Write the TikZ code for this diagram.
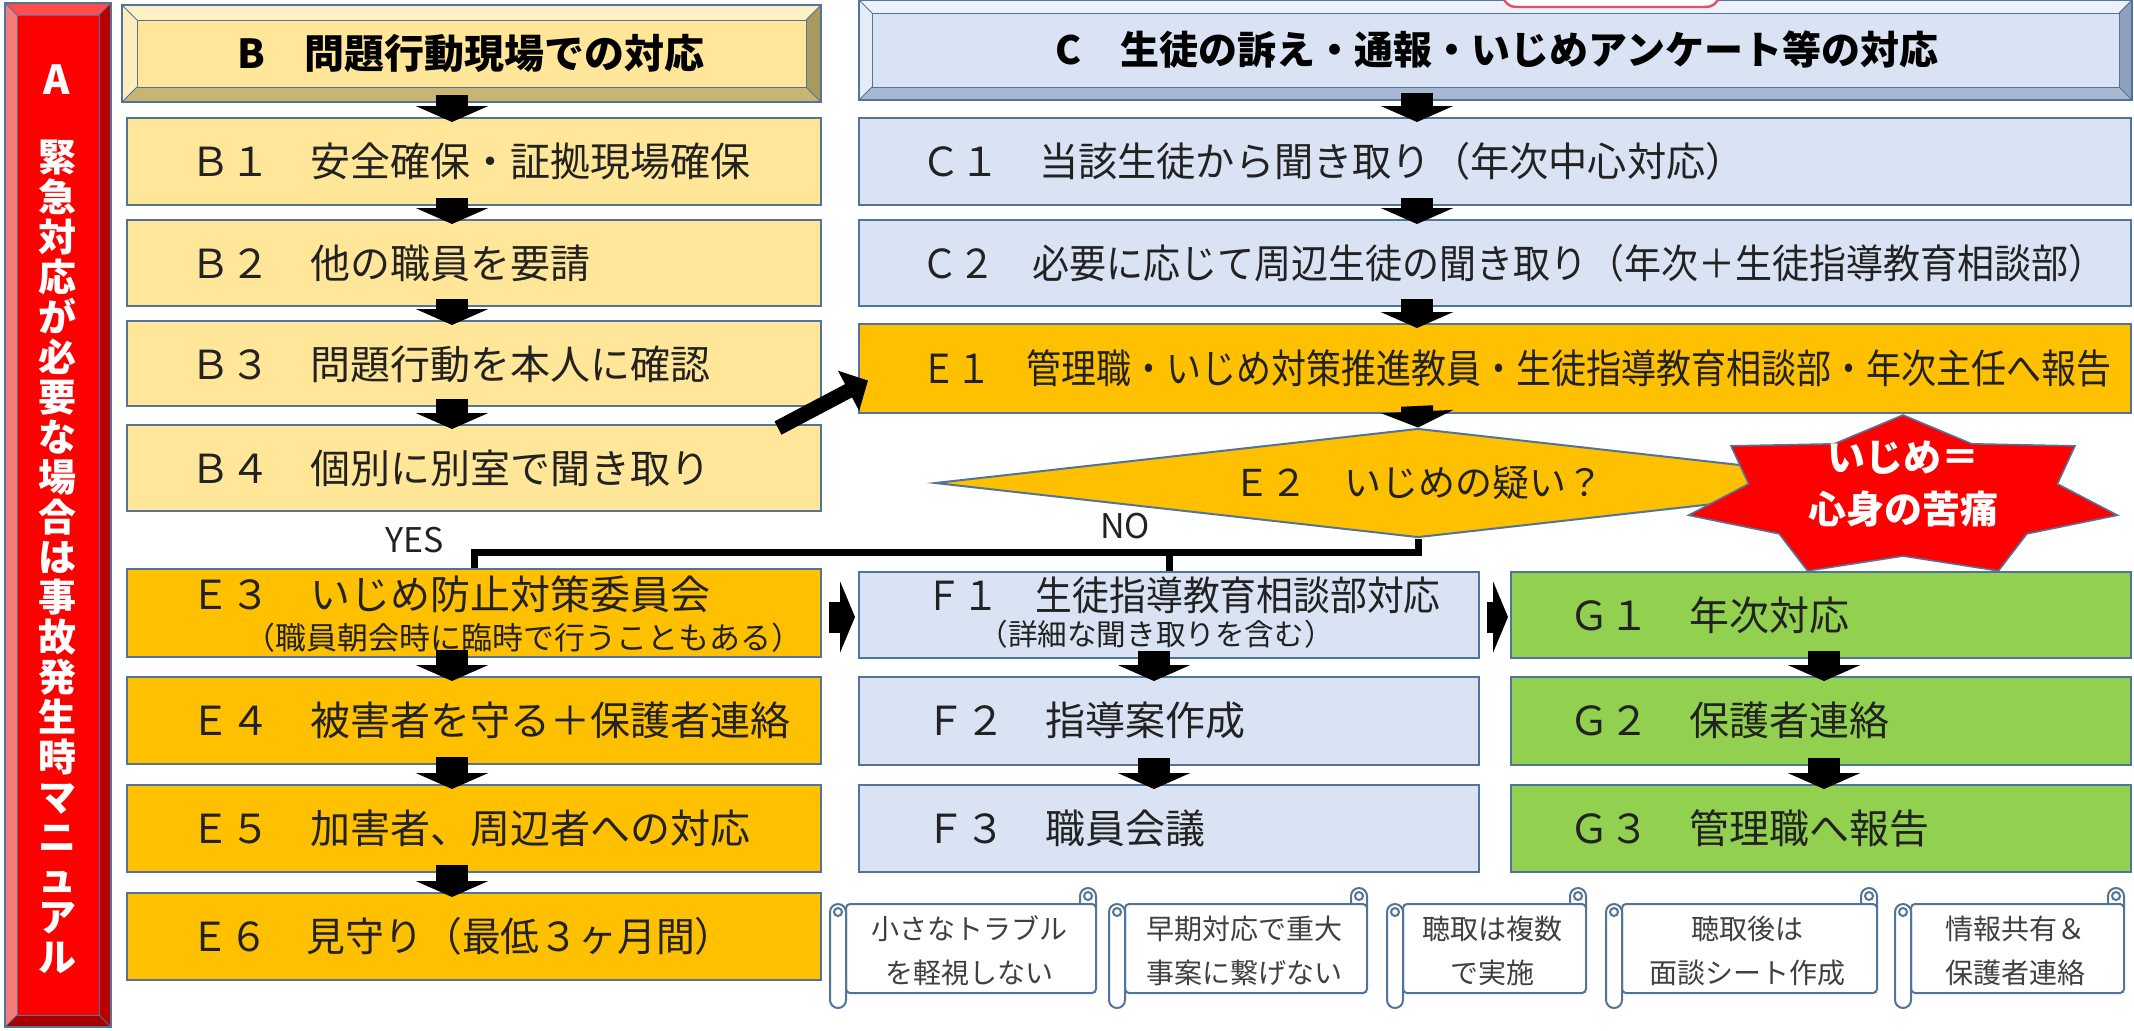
\documentclass[tikz,border=0pt]{standalone}
\usepackage{fontspec}
\setmainfont{Noto Sans CJK JP}
\usepackage{graphicx}
\usetikzlibrary{arrows.meta,calc,fit,shapes.geometric}
\definecolor{edgec}{HTML}{52739A}
\definecolor{yelc}{HTML}{FFE699}
\definecolor{bluc}{HTML}{DAE3F3}
\definecolor{orac}{HTML}{FFC000}
\definecolor{grnc}{HTML}{92D050}
\definecolor{txtc}{HTML}{222222}
\definecolor{scrtc}{HTML}{404040}
\definecolor{Aface}{HTML}{FF0000}
\definecolor{Atop}{HTML}{FF4D4D}
\definecolor{Aleft}{HTML}{F77B7B}
\definecolor{Abot}{HTML}{A50000}
\definecolor{Aright}{HTML}{B80000}
\definecolor{Bface}{HTML}{FFE699}
\definecolor{Btop}{HTML}{FFF1C6}
\definecolor{Bleft}{HTML}{FFEEBB}
\definecolor{Bbot}{HTML}{C8B574}
\definecolor{Bright}{HTML}{A9995E}
\definecolor{Cface}{HTML}{DAE3F3}
\definecolor{Ctop}{HTML}{EDF1F9}
\definecolor{Cleft}{HTML}{E6ECF7}
\definecolor{Cbot}{HTML}{A9B8D1}
\definecolor{Cright}{HTML}{8FA0BC}
\definecolor{starc}{HTML}{FF0000}
\definecolor{fragc}{HTML}{E0506A}

\newcommand\bevelbox[6]{%
  \fill[#6face] (#1,#2) rectangle (#3,#4);
  \fill[#6top] (#1,#2) -- (#3,#2) -- ({#3-#5},{#2+#5}) -- ({#1+#5},{#2+#5}) -- cycle;
  \fill[#6bot] (#1,#4) -- (#3,#4) -- ({#3-#5},{#4-#5}) -- ({#1+#5},{#4-#5}) -- cycle;
  \fill[#6left] (#1,#2) -- ({#1+#5},{#2+#5}) -- ({#1+#5},{#4-#5}) -- (#1,#4) -- cycle;
  \fill[#6right] (#3,#2) -- ({#3-#5},{#2+#5}) -- ({#3-#5},{#4-#5}) -- (#3,#4) -- cycle;
  \draw[edgec, line width=0.5pt] ({#1+#5},{#2+#5}) rectangle ({#3-#5},{#4-#5});
  \draw[edgec, line width=0.5pt] (#1,#2) -- ({#1+#5},{#2+#5}) (#3,#2) -- ({#3-#5},{#2+#5})
        (#1,#4) -- ({#1+#5},{#4-#5}) (#3,#4) -- ({#3-#5},{#4-#5});
  \draw[edgec, line width=1pt] (#1,#2) rectangle (#3,#4);
}

\newcommand\scrollbox[5]{%
  \filldraw[scr, rounded corners=4pt] ({#3-16},916) rectangle (#3,888);
  \draw[scr] ({#3-8},896) circle[radius=4];
  \filldraw[scr, rounded corners=2pt] ({#2+16},904) rectangle (#3,993);
  \filldraw[scr, rounded corners=4pt] (#2,904) rectangle ({#2+16},1008);
  \draw[scr] ({#2+8},912) circle[radius=4];
  \node[scrtxt] (#1) at ({(#2+#3)/2+6},951) {#4\\#5};
}

\newcommand\darrow[3]{\draw[darr] ($(#1.south -| #3)+(0,-7)$) -- ($(#2.north -| #3)+(0,4)$);}

\begin{document}
\begin{tikzpicture}[x=0.5pt,y=-0.5pt,
  box/.style={draw=edgec, line width=1.2pt, inner sep=0pt, outer sep=0pt},
  byel/.style={box, fill=yelc},
  bblu/.style={box, fill=bluc},
  bora/.style={box, fill=orac},
  bgrn/.style={box, fill=grnc},
  txt/.style={anchor=west, inner sep=0pt, text=txtc, font=\fontsize{20pt}{24pt}\selectfont},
  smalltxt/.style={anchor=west, inner sep=0pt, text=txtc, font=\fontsize{15.5pt}{18pt}\selectfont},
  hdtxt/.style={inner sep=0pt, text=black, font=\bfseries\fontsize{20pt}{24pt}\selectfont},
  ynlabel/.style={inner sep=0pt, text=txtc, font=\fontsize{17pt}{20pt}\selectfont},
  darr/.style={draw=black, line width=16pt, -{Triangle[width=36pt,length=8pt]}},
  rarr/.style={draw=black, line width=15.5pt, -{Triangle[width=35.5pt,length=7.5pt]}},
  diagarr/.style={draw=black, line width=7.5pt, -{Triangle[width=22pt,length=11pt]}},
  link/.style={draw=black, line width=3.5pt},
  scr/.style={draw=edgec, line width=1pt, fill=white},
  scrtxt/.style={inner sep=0pt, align=center, text=scrtc, font=\fontsize{14pt}{22pt}\selectfont},
]
\useasboundingbox (0,0) rectangle (2134,1030);
\fill[white] (0,0) rectangle (2134,1030);

% ---------- A bar ----------
\bevelbox{5}{3}{111}{1027}{12}{A}
\node[inner sep=0pt, text=white, font=\bfseries\fontsize{20pt}{22pt}\selectfont] (Alab) at (57,80) {A};
\node[inner sep=0pt, align=center, text=white, font=\bfseries\fontsize{19pt}{20pt}\selectfont] (Avert) at (57,557)
  {緊\\急\\対\\応\\が\\必\\要\\な\\場\\合\\は\\事\\故\\発\\生\\時\\マ\\ニ\\ュ\\ア\\ル};

% ---------- headers ----------
\bevelbox{122}{5}{821}{102}{15}{B}
\node[fit={(122,5) (821,102)}, inner sep=0pt] (Bh) {};
\node[hdtxt] (Bht) at (471,53) {B　問題行動現場での対応};

\bevelbox{859}{0}{2132}{100}{13}{C}
\node[fit={(859,0) (2132,100)}, inner sep=0pt] (Ch) {};
\node[hdtxt, font=\bfseries\fontsize{19.5pt}{24pt}\selectfont] (Cht) at (1497,50) {C　生徒の訴え・通報・いじめアンケート等の対応};
\filldraw[fill=white, draw=fragc, line width=1.2pt] (1504,0) .. controls (1510,7) .. (1525,7) -- (1697,7) .. controls (1712,7) .. (1718,0);

% ---------- column coordinates ----------
\coordinate (bx) at (452,0);
\coordinate (cx) at (1417,0);
\coordinate (fx) at (1154,0);
\coordinate (gx) at (1824,0);
\coordinate (jy) at (0,552);

% ---------- B column ----------
\node[byel, fit={(127,118) (821,205)}] (B1) {};
\node[byel, fit={(127,220) (821,306)}] (B2) {};
\node[byel, fit={(127,321) (821,406)}] (B3) {};
\node[byel, fit={(127,425) (821,511)}] (B4) {};
\node[txt] (B1t) at (190,161) {Ｂ１　安全確保・証拠現場確保};
\node[txt] (B2t) at (190,263) {Ｂ２　他の職員を要請};
\node[txt] (B3t) at (190,364) {Ｂ３　問題行動を本人に確認};
\node[txt] (B4t) at (190,468) {Ｂ４　個別に別室で聞き取り};

% ---------- C column ----------
\node[bblu, fit={(859,118) (2131,205)}] (C1) {};
\node[bblu, fit={(859,220) (2131,306)}] (C2) {};
\node[bora, fit={(859,324) (2131,413)}] (E1) {};
\node[txt] (C1t) at (921,161) {\scalebox{0.98}[1]{Ｃ１　当該生徒から聞き取り（年次中心対応）}};
\node[txt] (C2t) at (921,263) {\scalebox{0.925}[1]{Ｃ２　必要に応じて周辺生徒の聞き取り（年次＋生徒指導教育相談部）}};
\node[txt] (E1t) at (921,368) {\scalebox{0.875}[1]{Ｅ１　管理職・いじめ対策推進教員・生徒指導教育相談部・年次主任へ報告}};

% ---------- diamond ----------
\node[diamond, draw=edgec, line width=1pt, fill=orac, inner sep=0pt, aspect=8.86,
      minimum width=483pt, minimum height=54.5pt, text=txtc,
      font=\fontsize{18.5pt}{22pt}\selectfont] (E2) at (1418,483) {Ｅ２　いじめの疑い？};

% ---------- star ----------
\filldraw[fill=starc, draw=edgec, line width=0.8pt] (1903,415)
  \foreach \i in {1,...,13} { -- ({1903+220*(1-0.28*mod(\i,2))*cos(90-\i*25.7143)}, {497-82*(1-0.28*mod(\i,2))*sin(90-\i*25.7143)}) } -- cycle;
\node[inner sep=0pt, align=center, text=white, font=\bfseries\fontsize{19pt}{26pt}\selectfont] (star) at (1903,484) {いじめ＝\\心身の苦痛};

% ---------- links ----------
\draw[link] (E2.south) -- (E2.south |- jy) -| (474,569);
\draw[link] (1169,552) -- (1169,572);

% ---------- E column ----------
\node[bora, fit={(127,569) (821,657)}] (E3) {};
\node[bora, fit={(127,677) (821,764)}] (E4) {};
\node[bora, fit={(127,785) (821,872)}] (E5) {};
\node[bora, fit={(127,893) (821,980)}] (E6) {};
\node[txt] (E3t) at (190,594) {Ｅ３　いじめ防止対策委員会};
\node[smalltxt] (E3s) at (244,638) {（職員朝会時に臨時で行うこともある）};
\node[txt] (E4t) at (190,720) {Ｅ４　被害者を守る＋保護者連絡};
\node[txt] (E5t) at (190,828) {Ｅ５　加害者、周辺者への対応};
\node[txt] (E6t) at (190,936) {\scalebox{0.97}[1]{Ｅ６　見守り（最低３ヶ月間）}};

% ---------- F column ----------
\node[bblu, fit={(859,572) (1479,658)}] (F1) {};
\node[bblu, fit={(859,677) (1479,765)}] (F2) {};
\node[bblu, fit={(859,785) (1479,872)}] (F3) {};
\node[txt] (F1t) at (925,595) {\scalebox{0.92}[1]{Ｆ１　生徒指導教育相談部対応}};
\node[smalltxt, font=\fontsize{14.8pt}{18pt}\selectfont] (F1s) at (978,634) {（詳細な聞き取りを含む）};
\node[txt] (F2t) at (925,720) {Ｆ２　指導案作成};
\node[txt] (F3t) at (925,828) {Ｆ３　職員会議};

% ---------- G column ----------
\node[bgrn, fit={(1511,572) (2131,658)}] (G1) {};
\node[bgrn, fit={(1511,677) (2131,765)}] (G2) {};
\node[bgrn, fit={(1511,785) (2131,872)}] (G3) {};
\node[txt] (G1t) at (1569,615) {Ｇ１　年次対応};
\node[txt] (G2t) at (1569,720) {Ｇ２　保護者連絡};
\node[txt] (G3t) at (1569,828) {Ｇ３　管理職へ報告};

% ---------- labels ----------
\node[ynlabel] (yes) at (415,540) {YES};
\node[ynlabel] (no) at (1125,526) {NO};

% ---------- arrows ----------
\darrow{Bh}{B1}{bx}
\darrow{B1}{B2}{bx}
\darrow{B2}{B3}{bx}
\darrow{B3}{B4}{bx}
\darrow{E3}{E4}{bx}
\darrow{E4}{E5}{bx}
\darrow{E5}{E6}{bx}
\darrow{Ch}{C1}{cx}
\darrow{C1}{C2}{cx}
\darrow{C2}{E1}{cx}
\draw[darr] ($(E1.south -| cx)+(0,-7)$) -- (E2.north);
\darrow{F1}{F2}{fx}
\darrow{F2}{F3}{fx}
\darrow{G1}{G2}{gx}
\darrow{G2}{G3}{gx}
\draw[rarr] ($(E3.east)+(8,4)$) -- ($(F1.west |- E3.east)+(-4,4)$);
\draw[rarr] ($(F1.east)+(8,2)$) -- ($(G1.west)+(-3,2)$);
\coordinate (dtail) at (778,428);
\draw[diagarr] (dtail) -- ($(E1.west)+(9,12)$);

% ---------- scrolls ----------
\scrollbox{S1}{830}{1096}{小さなトラブル}{を軽視しない}
\scrollbox{S2}{1109}{1367}{早期対応で重大}{事案に繋げない}
\scrollbox{S3}{1387}{1586}{聴取は複数}{で実施}
\scrollbox{S4}{1606}{1877}{聴取後は}{面談シート作成}
\scrollbox{S5}{1895}{2124}{情報共有＆}{保護者連絡}
\end{tikzpicture}
\end{document}
